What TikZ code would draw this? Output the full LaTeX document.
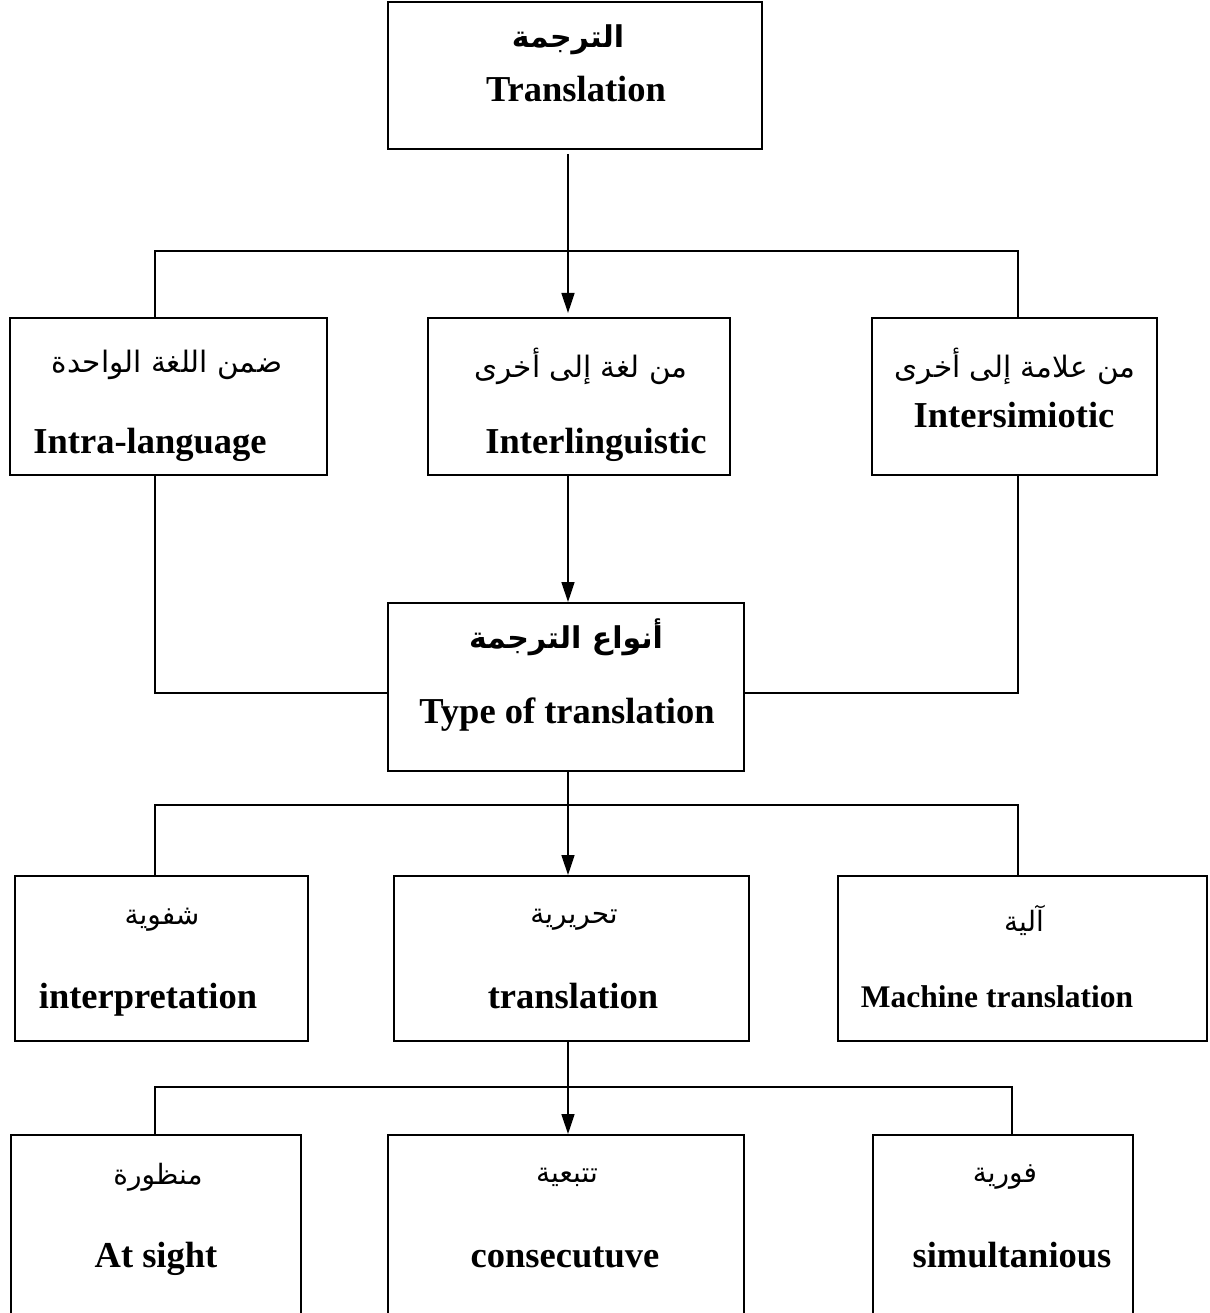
\documentclass[tikz,border=0pt]{standalone}
\usepackage{fontspec}
\setmainfont{Liberation Serif}
\newfontfamily\arabicfont[Script=Arabic]{DejaVu Sans}
\TeXXeTstate=1
\usetikzlibrary{arrows.meta}
\begin{document}
\begin{tikzpicture}[x=1pt,y=-1pt,
  box/.style={draw, line width=2pt, rectangle, inner sep=0pt},
  en/.style={font=\fontsize{36.5}{40}\selectfont\bfseries, inner sep=0pt, anchor=base},
  enS/.style={font=\fontsize{31.5}{36}\selectfont\bfseries, inner sep=0pt, anchor=base},
  ar/.style={font=\arabicfont\fontsize{28}{32}\selectfont, inner sep=0pt},
  arL/.style={font=\arabicfont\fontsize{29.5}{34}\selectfont, inner sep=0pt},
  arb/.style={font=\arabicfont\bfseries\fontsize{30}{34}\selectfont, inner sep=0pt},
  conn/.style={line width=1.5pt},
  arr/.style={conn, -{Triangle[length=20pt,width=13pt]}}]
\useasboundingbox (0,0) rectangle (1209,1313);
% boxes
\node[box, minimum width=374pt, minimum height=147pt] (top) at (575,75.5) {};
\node[box, minimum width=317pt, minimum height=157pt] (L2) at (168.5,396.5) {};
\node[box, minimum width=302pt, minimum height=157pt] (M2) at (579,396.5) {};
\node[box, minimum width=285pt, minimum height=157pt] (R2) at (1014.5,396.5) {};
\node[box, minimum width=356pt, minimum height=168pt] (T) at (566,687) {};
\node[box, minimum width=293pt, minimum height=165pt] (L4) at (161.5,958.5) {};
\node[box, minimum width=355pt, minimum height=165pt] (M4) at (571.5,958.5) {};
\node[box, minimum width=369pt, minimum height=165pt] (R4) at (1022.5,958.5) {};
\node[box, minimum width=290pt, minimum height=220pt] (L5) at (156,1245) {};
\node[box, minimum width=356pt, minimum height=220pt] (M5) at (566,1245) {};
\node[box, minimum width=260pt, minimum height=220pt] (R5) at (1003,1245) {};
% texts
\node[arb] (tA) at (568,40) {\beginR الترجمة\endR};
\node[en] (tE) at (576,102) {Translation};
\node[arL] (l2A) at (167,365) {\beginR ضمن اللغة الواحدة\endR};
\node[en] (l2E) at (150,453) {Intra-language};
\node[arL] (m2A) at (581,366) {\beginR من لغة إلى أخرى\endR};
\node[en] (m2E) at (596,453) {Interlinguistic};
\node[arL] (r2A) at (1015,366) {\beginR من علامة إلى أخرى\endR};
\node[en] (r2E) at (1014,427) {Intersimiotic};
\node[arb] (tTA) at (566,637) {\beginR أنواع الترجمة\endR};
\node[en] (tTE) at (567,723) {Type of translation};
\node[ar] (l4A) at (162,920) {\beginR شفوية\endR};
\node[en] (l4E) at (148,1008) {interpretation};
\node[ar] (m4A) at (574,920) {\beginR تحريرية\endR};
\node[en] (m4E) at (573,1008) {translation};
\node[ar] (r4A) at (1024,920) {\beginR آلية\endR};
\node[enS] (r4E) at (997,1007) {Machine translation};
\node[ar] (l5A) at (158,1177) {\beginR منظورة\endR};
\node[en] (l5E) at (156,1267) {At sight};
\node[ar] (m5A) at (567,1177) {\beginR تتبعية\endR};
\node[en] (m5E) at (565,1267) {consecutuve};
\node[ar] (r5A) at (1005,1177) {\beginR فورية\endR};
\node[en] (r5E) at (1012,1267) {simultanious};
% connector coordinates
\coordinate (ax) at (568,0);
\coordinate (b1L) at (155,251);
\coordinate (b1R) at (1018,251);
\coordinate (e1L) at (155,693);
\coordinate (e1R) at (1018,693);
\coordinate (b2L) at (155,805);
\coordinate (b2R) at (1018,805);
\coordinate (b3L) at (155,1087);
\coordinate (b3R) at (1012,1087);
% connectors
\draw[arr, shorten <=4pt, shorten >=4pt] (top.south -| ax) -- (M2.north -| ax);
\draw[conn] (b1L |- L2.north) -- (b1L) -- (b1R) -- (b1R |- R2.north);
\draw[arr] (M2.south -| ax) -- (T.north -| ax);
\draw[conn] (e1L |- L2.south) -- (e1L) -- (e1L -| T.west);
\draw[conn] (e1R |- R2.south) -- (e1R) -- (e1R -| T.east);
\draw[arr] (T.south -| ax) -- (M4.north -| ax);
\draw[conn] (b2L |- L4.north) -- (b2L) -- (b2R) -- (b2R |- R4.north);
\draw[arr] (M4.south -| ax) -- (M5.north -| ax);
\draw[conn] (b3L |- L5.north) -- (b3L) -- (b3R) -- (b3R |- R5.north);
\end{tikzpicture}
\end{document}
